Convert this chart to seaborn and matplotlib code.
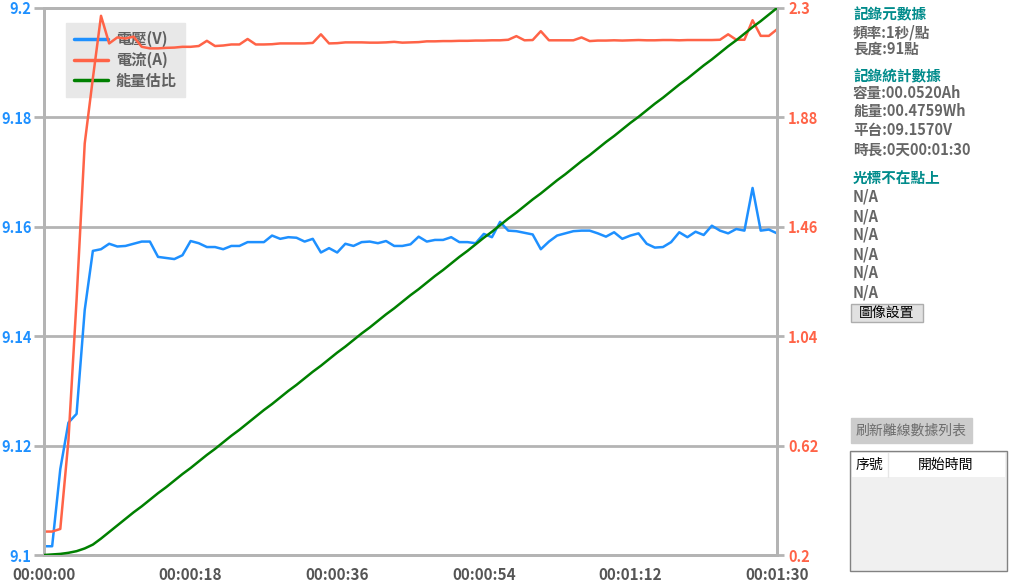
import pandas as pd
import seaborn as sns
import matplotlib.pyplot as plt
from matplotlib.patches import Rectangle
from matplotlib.lines import Line2D

# Recorded samples, one per second
seconds = list(range(91))
voltage = [9.1016, 9.1016, 9.1157, 9.1242, 9.1258, 9.1448, 9.1556, 9.1559, 9.1569, 9.1564,
           9.1565, 9.1569, 9.1573, 9.1573, 9.1545, 9.1543, 9.1541, 9.1548, 9.1574, 9.1570,
           9.1563, 9.1563, 9.1559, 9.1565, 9.1565, 9.1572, 9.1572, 9.1572, 9.1584, 9.1578,
           9.1581, 9.1580, 9.1573, 9.1578, 9.1553, 9.1561, 9.1553, 9.1569, 9.1565, 9.1572,
           9.1573, 9.1570, 9.1574, 9.1565, 9.1565, 9.1568, 9.1582, 9.1573, 9.1576, 9.1576,
           9.1581, 9.1572, 9.1572, 9.1570, 9.1587, 9.1581, 9.1609, 9.1593, 9.1592, 9.1589,
           9.1586, 9.1559, 9.1573, 9.1584, 9.1588, 9.1592, 9.1593, 9.1593, 9.1588, 9.1582,
           9.1590, 9.1578, 9.1584, 9.1588, 9.1569, 9.1562, 9.1563, 9.1572, 9.1590, 9.1581,
           9.1591, 9.1585, 9.1602, 9.1593, 9.1588, 9.1596, 9.1593, 9.1671, 9.1593, 9.1595,
           9.1588]
current = [0.29, 0.29, 0.30, 0.64, 1.18, 1.78, 2.03, 2.27, 2.164, 2.187,
           2.183, 2.190, 2.151, 2.145, 2.145, 2.147, 2.148, 2.151, 2.151, 2.154,
           2.174, 2.154, 2.156, 2.160, 2.160, 2.181, 2.160, 2.160, 2.161, 2.164,
           2.164, 2.164, 2.164, 2.166, 2.199, 2.164, 2.165, 2.168, 2.168, 2.168,
           2.167, 2.167, 2.168, 2.170, 2.167, 2.168, 2.169, 2.172, 2.172, 2.173,
           2.173, 2.174, 2.174, 2.175, 2.175, 2.176, 2.176, 2.178, 2.192, 2.176,
           2.177, 2.211, 2.176, 2.176, 2.176, 2.176, 2.187, 2.173, 2.175, 2.175,
           2.176, 2.175, 2.176, 2.177, 2.176, 2.176, 2.177, 2.177, 2.176, 2.177,
           2.177, 2.177, 2.177, 2.178, 2.199, 2.178, 2.178, 2.253, 2.193, 2.193,
           2.218]
energy_ratio = [0.000, 0.001, 0.002, 0.004, 0.007, 0.012, 0.019, 0.030, 0.042, 0.054,
                0.066, 0.078, 0.089, 0.101, 0.113, 0.124, 0.136, 0.148, 0.159, 0.171,
                0.183, 0.194, 0.206, 0.218, 0.229, 0.241, 0.253, 0.265, 0.276, 0.288,
                0.300, 0.311, 0.323, 0.335, 0.346, 0.358, 0.370, 0.381, 0.393, 0.405,
                0.416, 0.428, 0.440, 0.451, 0.463, 0.475, 0.486, 0.498, 0.510, 0.521,
                0.533, 0.545, 0.556, 0.568, 0.580, 0.591, 0.603, 0.615, 0.626, 0.638,
                0.650, 0.661, 0.673, 0.685, 0.696, 0.708, 0.720, 0.731, 0.743, 0.755,
                0.766, 0.778, 0.790, 0.801, 0.813, 0.825, 0.836, 0.848, 0.860, 0.871,
                0.883, 0.895, 0.906, 0.918, 0.930, 0.941, 0.953, 0.965, 0.976, 0.988,
                1.000]

x_ticks = [0, 18, 36, 54, 72, 90]
x_tick_labels = ['00:00:00', '00:00:18', '00:00:36', '00:00:54', '00:01:12', '00:01:30']
v_ticks = [9.1, 9.12, 9.14, 9.16, 9.18, 9.2]
v_tick_labels = ['9.1', '9.12', '9.14', '9.16', '9.18', '9.2']
a_ticks = [0.2, 0.62, 1.04, 1.46, 1.88, 2.3]
a_tick_labels = ['0.2', '0.62', '1.04', '1.46', '1.88', '2.3']
legend_labels = ['電壓(V)', '電流(A)', '能量估比']

info_title = '記錄元數據'
info_lines = ['頻率:1秒/點', '長度:91點']
stats_title = '記錄統計數據'
stats_lines = ['容量:00.0520Ah', '能量:00.4759Wh', '平台:09.1570V', '時長:0天00:01:30']
cursor_title = '光標不在點上'
cursor_lines = ['N/A'] * 6

df = pd.DataFrame({'t': seconds, 'V': voltage, 'A': current, 'E': energy_ratio})

sns.set_style('white')
plt.rcParams['font.family'] = ['Noto Sans CJK TC', 'DejaVu Sans']

BLUE = '#1E90FF'
RED = '#FF6347'
GREEN = '#008000'
GRID = '#b4b4b4'
W, H = 1009, 582

fig = plt.figure(figsize=(W / 100, H / 100), dpi=100)
fig.patch.set_facecolor('white')
ax1 = fig.add_axes([44 / W, 27 / H, 733 / W, 547 / H])
ax2 = ax1.twinx()
ax3 = ax1.twinx()

sns.lineplot(data=df, x='t', y='V', ax=ax1, color=BLUE, lw=1.8)
sns.lineplot(data=df, x='t', y='A', ax=ax2, color=RED, lw=1.8)
sns.lineplot(data=df, x='t', y='E', ax=ax3, color=GREEN, lw=1.8)

ax1.set_xlim(0, 90)
ax1.set_ylim(9.1, 9.2)
ax2.set_ylim(0.2, 2.3)
ax3.set_ylim(0, 1)
ax3.axis('off')

ax1.set_xticks(x_ticks)
ax1.set_xticklabels(x_tick_labels)
ax1.set_yticks(v_ticks)
ax1.set_yticklabels(v_tick_labels)
ax2.set_yticks(a_ticks)
ax2.set_yticklabels(a_tick_labels)
for a in (ax1, ax2):
    a.set_xlabel('')
    a.set_ylabel('')

ax1.yaxis.grid(True, color=GRID, lw=2)
ax1.set_axisbelow(True)
for a in (ax1, ax2):
    for s in a.spines.values():
        s.set_color(GRID)
        s.set_linewidth(2)

ax1.tick_params(axis='x', colors=GRID, length=6, width=2, labelcolor='#555555', labelsize=11, pad=3)
ax1.tick_params(axis='y', colors=GRID, length=7, width=2, labelcolor=BLUE, labelsize=10.5, pad=2)
ax2.tick_params(axis='y', colors=GRID, length=5, width=2, labelcolor=RED, labelsize=10.5, pad=3)
for lab in ax1.get_xticklabels() + ax1.get_yticklabels() + ax2.get_yticklabels():
    lab.set_fontweight('bold')

handles = [Line2D([], [], color=c, lw=2.5) for c in (BLUE, RED, GREEN)]
leg = ax1.legend(handles, legend_labels, loc='upper left', bbox_to_anchor=(0.030, 0.973),
                 frameon=True, fancybox=False, facecolor='#e8e8e8', edgecolor='#e8e8e8',
                 framealpha=1, handlelength=2.2, handletextpad=0.5, labelspacing=0.3,
                 borderpad=0.55, borderaxespad=0, prop={'size': 11, 'weight': 'bold'})
for t in leg.get_texts():
    t.set_color('#606060')


# Right-hand side panel
def px(x, y):
    return x / W, 1 - y / H


TEAL = '#008B8B'
GRAY_TXT = '#666666'
blocks = [(14, info_title, list(zip([33, 49], info_lines))),
          (76, stats_title, list(zip([93, 111, 130, 150], stats_lines))),
          (178, cursor_title, list(zip([197, 216, 235, 254, 273, 292], cursor_lines)))]
for ty, title, rows in blocks:
    fig.text(*px(853, ty), title, color=TEAL, fontsize=10.5, fontweight='bold', va='center')
    for ry, s in rows:
        fig.text(*px(853, ry), s, color=GRAY_TXT, fontsize=10.5, fontweight='bold', va='center')


def box(x0, y0, x1, y1, fc, ec, lw=1):
    fig.patches.append(Rectangle(px(x0, y1), (x1 - x0) / W, (y1 - y0) / H, transform=fig.transFigure,
                                 facecolor=fc, edgecolor=ec, lw=lw))


box(851, 304, 923, 322, '#e1e1e1', '#adadad')
fig.text(*px(887, 313), '圖像設置', color='black', fontsize=10, ha='center', va='center')

box(851, 418, 972, 443, '#cccccc', '#cccccc')
fig.text(*px(911, 431), '刷新離線數據列表', color='#6d6d6d', fontsize=10, ha='center', va='center')

box(850, 451, 1007, 571, '#f0f0f0', '#828282')
box(852, 453, 1005, 477, 'white', 'white', lw=0)
fig.add_artist(Line2D([888 / W, 888 / W], [1 - 453 / H, 1 - 477 / H], color='#e6e6e6', lw=1))
fig.text(*px(869, 465), '序號', color='black', fontsize=10, ha='center', va='center')
fig.text(*px(946, 465), '開始時間', color='black', fontsize=10, ha='center', va='center')

fig.savefig('out.png', dpi=100)
